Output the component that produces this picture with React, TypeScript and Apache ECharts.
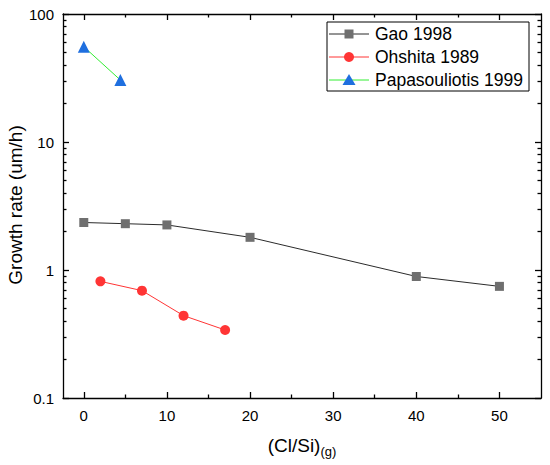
import React, { useEffect, useRef } from 'react';
import * as echarts from 'echarts';

const gaoX = [0, 5, 10, 20, 40, 50];
const gaoY = [2.35, 2.3, 2.25, 1.8, 0.89, 0.745];
const ohshitaX = [2, 7, 12, 17];
const ohshitaY = [0.815, 0.69, 0.44, 0.34];
const papaX = [0, 4.4];
const papaY = [55.5, 30.5];

const seriesNames = ['Gao 1998', 'Ohshita 1989', 'Papasouliotis 1999'];

const xMajor = [0, 10, 20, 30, 40, 50];
const xMinor = [5, 15, 25, 35, 45];
const yMajor = [0.1, 1, 10, 100];
const yMinor = [0.2, 0.3, 0.4, 0.5, 0.6, 0.7, 0.8, 0.9, 2, 3, 4, 5, 6, 7, 8, 9, 20, 30, 40, 50, 60, 70, 80, 90];

const FONT = '"Liberation Sans", Arial, sans-serif';
const lineColors = ['#2b2b2b', '#ff3535', '#33ee33'];
const markerColors = ['#6f6f6f', '#ff3535', '#1f6fdf'];

function zip(xs: number[], ys: number[]) {
  return xs.map((x, i) => [x, ys[i]]);
}

export default function App() {
  const ref = useRef<HTMLDivElement>(null);
  useEffect(() => {
    if (!ref.current) return;
    const chart = echarts.init(ref.current, undefined, { renderer: 'svg' });

    const xAx = (pos: string, ticks: number[], len: number, line: boolean, labels: boolean) => ({
      type: 'value',
      min: -2.5,
      max: 55,
      position: pos,
      splitLine: { show: false },
      axisLine: { show: line, onZero: false, lineStyle: { color: '#000', width: 1.3 } },
      axisTick: { show: true, inside: true, length: len, customValues: ticks, lineStyle: { color: '#000', width: 1.3 } },
      axisLabel: labels ? { show: true, customValues: xMajor, fontSize: 15, color: '#000', margin: 10 } : { show: false },
    });
    const yAx = (pos: string, ticks: number[], len: number, line: boolean, labels: boolean) => ({
      type: 'log',
      logBase: 10,
      min: 0.1,
      max: 100,
      position: pos,
      splitLine: { show: false },
      axisLine: { show: line, onZero: false, lineStyle: { color: '#000', width: 1.3 } },
      axisTick: { show: true, inside: true, length: len, customValues: ticks, lineStyle: { color: '#000', width: 1.3 } },
      axisLabel: labels
        ? { show: true, customValues: yMajor, fontSize: 15, color: '#000', margin: 9, formatter: (v: number) => String(v) }
        : { show: false },
    });

    // legend drawn as graphic elements (box, line, marker, text per series)
    const legendEls: any[] = [
      { type: 'rect', shape: { x: 327, y: 22, width: 202, height: 69 }, style: { fill: '#fff', stroke: '#000', lineWidth: 1 }, z: 10 },
    ];
    seriesNames.forEach((name, i) => {
      const cy = 34 + 23 * i;
      legendEls.push({ type: 'line', shape: { x1: 329, y1: cy, x2: 369, y2: cy }, style: { stroke: lineColors[i], lineWidth: 1 }, z: 11 });
      if (i === 0) {
        legendEls.push({ type: 'rect', shape: { x: 344.5, y: cy - 4.5, width: 9, height: 9 }, style: { fill: markerColors[i] }, z: 12 });
      } else if (i === 1) {
        legendEls.push({ type: 'circle', shape: { cx: 349, cy, r: 5 }, style: { fill: markerColors[i] }, z: 12 });
      } else {
        legendEls.push({
          type: 'polygon',
          shape: { points: [[349, cy - 6], [355.5, cy + 5], [342.5, cy + 5]] },
          style: { fill: markerColors[i] },
          z: 12,
        });
      }
      legendEls.push({
        type: 'text',
        x: 375,
        y: cy,
        z: 12,
        style: { text: name, fontSize: 17.5, fontFamily: FONT, fill: '#000', align: 'left', verticalAlign: 'middle' },
      });
    });

    chart.setOption({
      animation: false,
      backgroundColor: '#fff',
      textStyle: { fontFamily: FONT },
      grid: { left: 63, top: 14, right: 9, bottom: 67, outerBoundsMode: 'none' },
      graphic: [
        {
          type: 'text',
          x: 15,
          y: 205,
          rotation: Math.PI / 2,
          style: { text: 'Growth rate (um/h)', fontSize: 19, fontFamily: FONT, fill: '#000', align: 'center', verticalAlign: 'middle' },
        },
        {
          type: 'text',
          x: 302,
          y: 445,
          style: {
            text: '{a|(Cl/Si)}{b|(g)}',
            align: 'center',
            verticalAlign: 'middle',
            rich: {
              a: { fontSize: 19, fill: '#000', fontFamily: FONT },
              b: { fontSize: 13, fill: '#000', fontFamily: FONT, padding: [12, 0, 0, 0] },
            },
          },
        },
        ...legendEls,
      ],
      xAxis: [
        xAx('bottom', xMajor, 6, true, true),
        xAx('top', xMajor, 6, true, false),
        xAx('bottom', xMinor, 3.5, false, false),
        xAx('top', xMinor, 3.5, false, false),
      ],
      yAxis: [
        yAx('left', yMajor, 6, true, true),
        yAx('right', yMajor, 6, true, false),
        yAx('left', yMinor, 3.5, false, false),
        yAx('right', yMinor, 3.5, false, false),
      ],
      series: [
        {
          name: seriesNames[0],
          type: 'line',
          data: zip(gaoX, gaoY),
          symbol: 'rect',
          symbolSize: 9,
          itemStyle: { color: markerColors[0] },
          lineStyle: { color: lineColors[0], width: 1 },
        },
        {
          name: seriesNames[1],
          type: 'line',
          data: zip(ohshitaX, ohshitaY),
          symbol: 'circle',
          symbolSize: 10,
          itemStyle: { color: markerColors[1] },
          lineStyle: { color: lineColors[1], width: 1 },
        },
        {
          name: seriesNames[2],
          type: 'line',
          data: zip(papaX, papaY),
          symbol: 'triangle',
          symbolSize: 12,
          itemStyle: { color: markerColors[2] },
          lineStyle: { color: lineColors[2], width: 1 },
        },
      ],
    });
    return () => chart.dispose();
  }, []);
  return <div ref={ref} style={{ position: 'fixed', left: 0, top: 0, width: 550, height: 465 }} />;
}
